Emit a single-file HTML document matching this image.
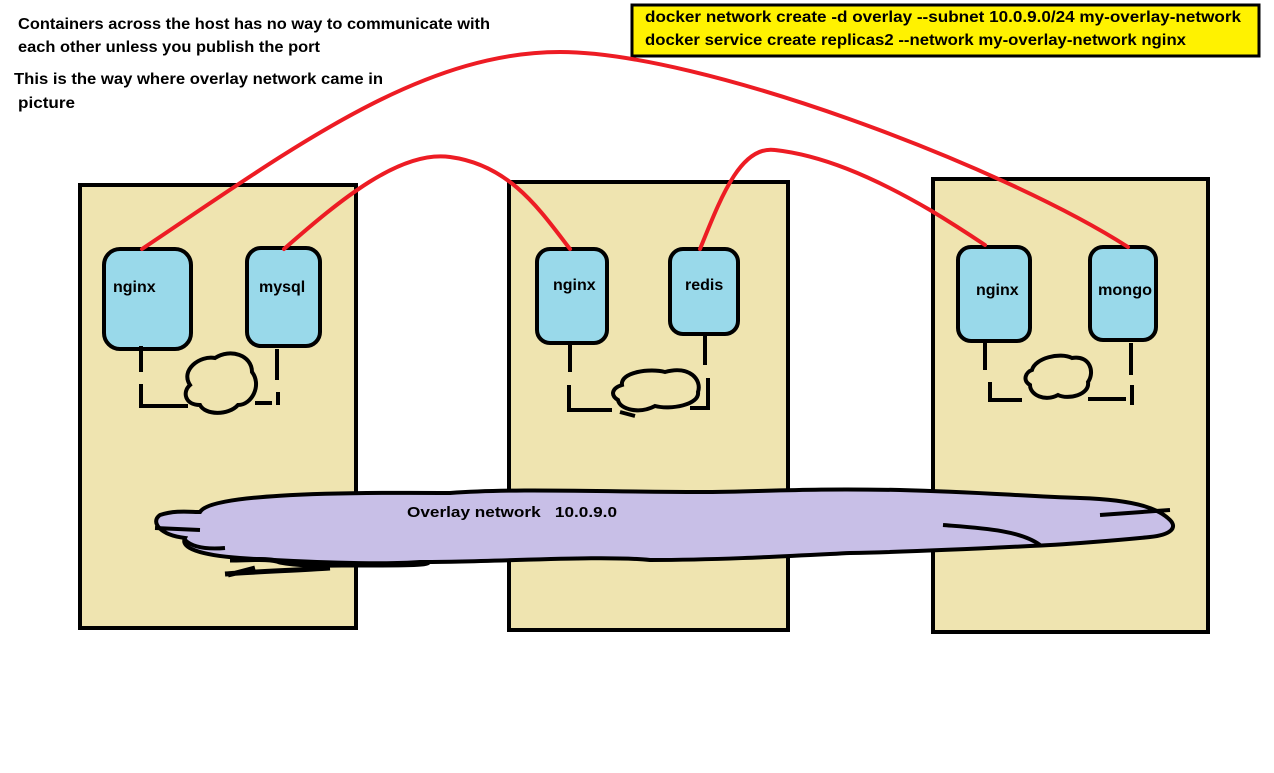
<!DOCTYPE html>
<html><head><meta charset="utf-8"><style>
html,body{margin:0;padding:0;background:#fff;width:1274px;height:773px;overflow:hidden}
svg text{font-family:"Liberation Sans",sans-serif;font-weight:bold;font-size:16px;fill:#000;white-space:pre}
</style></head><body>
<svg width="1274" height="773" viewBox="0 0 1274 773" xmlns="http://www.w3.org/2000/svg">
<rect x="0" y="0" width="1274" height="773" fill="#fff"/>
<text x="18" y="29" textLength="472" lengthAdjust="spacingAndGlyphs">Containers across the host has no way to communicate with</text>
<text x="18" y="52" textLength="302" lengthAdjust="spacingAndGlyphs">each other unless you publish the port</text>
<text x="14" y="84" textLength="369" lengthAdjust="spacingAndGlyphs">This is the way where overlay network came in</text>
<text x="18" y="108" textLength="57" lengthAdjust="spacingAndGlyphs">picture</text>
<rect x="632" y="5" width="627" height="51" fill="#FFF200" stroke="#000" stroke-width="3"/>
<text x="645" y="22" textLength="596" lengthAdjust="spacingAndGlyphs">docker network create -d overlay --subnet 10.0.9.0/24 my-overlay-network</text>
<text x="645" y="45" textLength="541" lengthAdjust="spacingAndGlyphs">docker service create replicas2 --network my-overlay-network nginx</text>
<g fill="#EFE4B0" stroke="#000" stroke-width="4">
<rect x="80" y="185" width="276" height="443"/>
<rect x="509" y="182" width="279" height="448"/>
<rect x="933" y="179" width="275" height="453"/>
</g>
<!-- overlay cloud -->
<path d="M200,512 C210,495 320,492 450,493 C520,488 600,492 700,492 C760,492 800,488 900,490 C980,492 1020,496 1080,498 C1140,500 1160,510 1170,520 C1178,528 1170,535 1150,537 C1120,540 1060,545 1030,546 C990,548 900,552 850,553 C790,556 720,560 650,560 C600,555 500,562 420,562 C380,565 300,562 240,558 C200,555 180,548 185,538 C160,535 150,522 160,515 C175,510 190,512 200,512 Z" fill="#C8BFE7" stroke="#000" stroke-width="4"/>
<path d="M200,530 L155,528 M1100,515 L1170,510 M1040,545 C1020,530 980,528 943,525 M225,548 C200,550 190,545 185,540" stroke="#000" stroke-width="4" fill="none"/>
<path d="M230,560 C250,560 270,558 280,562 C300,566 330,565 355,565 C400,565 430,565 428,562 M225,574 C250,572 300,570 330,568 M255,568 C240,572 228,575 228,575" stroke="#000" stroke-width="5" fill="none"/>
<text x="407" y="517" textLength="210" lengthAdjust="spacingAndGlyphs" style="font-size:15px">Overlay network   10.0.9.0</text>
<!-- containers -->
<g fill="#99D9EA" stroke="#000" stroke-width="4">
<rect x="104" y="249" width="87" height="100" rx="16"/>
<rect x="247" y="248" width="73" height="98" rx="14"/>
<rect x="537" y="249" width="70" height="94" rx="13"/>
<rect x="670" y="249" width="68" height="85" rx="13"/>
<rect x="958" y="247" width="72" height="94" rx="13"/>
<rect x="1090" y="247" width="66" height="93" rx="13"/>
</g>
<text x="113" y="292">nginx</text>
<text x="259" y="292">mysql</text>
<text x="553" y="290">nginx</text>
<text x="685" y="290">redis</text>
<text x="976" y="295">nginx</text>
<text x="1098" y="295" textLength="54" lengthAdjust="spacingAndGlyphs">mongo</text>
<!-- small clouds and dashed links -->
<g stroke="#000" stroke-width="4" fill="none">
<path d="M141,346 V372 M141,384 V406 H188 M255,403 H272 M277,349 V380 M278,392 V405"/>
<path d="M190,385 C180,370 200,355 215,358 C230,348 252,355 252,372 C262,385 252,405 238,405 C228,416 205,415 200,405 C185,405 182,392 190,385 Z"/>
<path d="M570,345 V372 M569,385 V410 H612 M620,412 L635,416 M690,408 H708 V378 M705,335 V365"/>
<path d="M622,385 C620,372 650,368 665,372 C690,365 702,380 698,392 C700,405 670,410 655,406 C640,414 620,410 618,400 C610,395 612,388 622,385 Z"/>
<path d="M985,342 V370 M990,382 V400 H1022 M1088,399 H1126 M1131,343 V375 M1132,385 V405"/>
<path d="M1032,370 C1035,358 1060,352 1072,358 C1090,355 1095,372 1088,382 C1090,395 1068,400 1058,395 C1045,402 1030,395 1030,385 C1022,380 1026,372 1032,370 Z"/>
</g>
<!-- red links -->
<g stroke="#ED1C24" stroke-width="4" fill="none" stroke-linecap="round">
<path d="M142,249 C290,150 420,52 560,52 C700,52 1000,165 1128,247"/>
<path d="M284,249 C340,200 400,150 450,157 C510,165 540,210 570,249"/>
<path d="M700,249 C720,200 740,145 775,150 C820,155 870,175 930,210 C955,225 970,235 985,245"/>
</g>
</svg>
</body></html>
